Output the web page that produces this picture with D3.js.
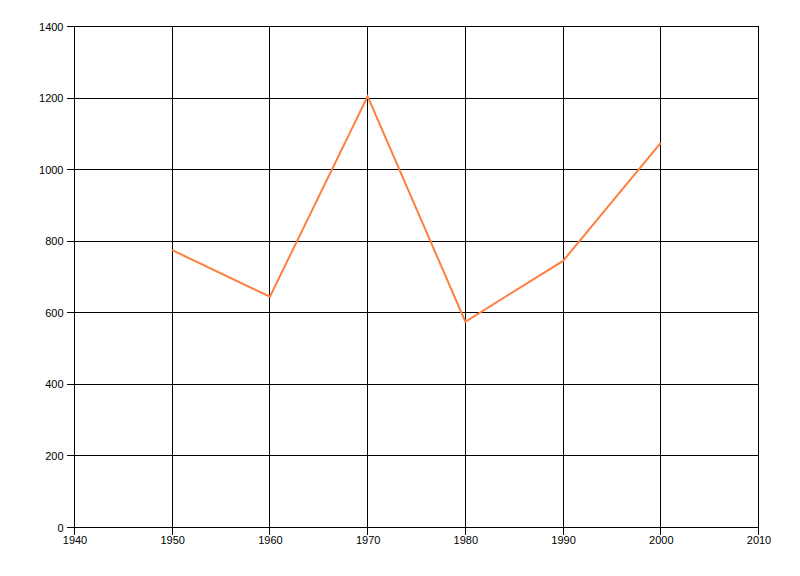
<!DOCTYPE html>
<html><head><meta charset="utf-8">
<script src="https://cdn.jsdelivr.net/npm/d3@7"></script>
<style>body{margin:0;background:#fff;} svg{display:block;}</style>
</head><body>
<svg id="chart" width="800" height="576"></svg>
<script>
const years = [1950, 1960, 1970, 1980, 1990, 2000];
const values = [775, 645, 1205, 575, 745, 1075];
const xTicks = [1940, 1950, 1960, 1970, 1980, 1990, 2000, 2010];
const yTicks = [0, 200, 400, 600, 800, 1000, 1200, 1400];

(function () {
const svg = d3.select('#chart');
const mL = 74.5, mR = 758.5, mT = 26.5, mB = 527.5;
const x = d3.scaleLinear().domain([1940, 2010]).range([mL, mR]);
const y = d3.scaleLinear().domain([0, 1400]).range([mB, mT]);
const px = v => Math.floor(v) + 0.5;

const g = svg.append('g').attr('shape-rendering', 'crispEdges');
g.selectAll('line.v').data(xTicks).enter().append('line')
  .attr('x1', d => px(x(d))).attr('x2', d => px(x(d)))
  .attr('y1', mT).attr('y2', mB + 7)
  .attr('stroke', '#000').attr('stroke-width', 1);
g.selectAll('line.h').data(yTicks).enter().append('line')
  .attr('y1', d => px(y(d))).attr('y2', d => px(y(d)))
  .attr('x1', mL - 8).attr('x2', mR)
  .attr('stroke', '#000').attr('stroke-width', 1);

const xAxis = svg.append('g').attr('transform', `translate(0,${mB})`)
  .call(d3.axisBottom(x).tickValues(xTicks).tickFormat(d3.format('d')).tickSize(0).tickPadding(9));
const yAxis = svg.append('g').attr('transform', `translate(${mL},0)`)
  .call(d3.axisLeft(y).tickValues(yTicks).tickFormat(d3.format('d')).tickSize(0).tickPadding(11));
[xAxis, yAxis].forEach(a => {
  a.select('.domain').remove();
  a.selectAll('text').attr('font-family', 'Liberation Sans, Arial, sans-serif')
    .attr('font-size', '11px').attr('fill', '#000');
});

const line = d3.line().x((d, i) => x(years[i])).y(d => y(d));
svg.append('path').datum(values).attr('d', line)
  .attr('fill', 'none').attr('stroke', '#FF7F3F').attr('stroke-width', 2)
  .attr('stroke-linejoin', 'miter');
})();
</script>
</body></html>
